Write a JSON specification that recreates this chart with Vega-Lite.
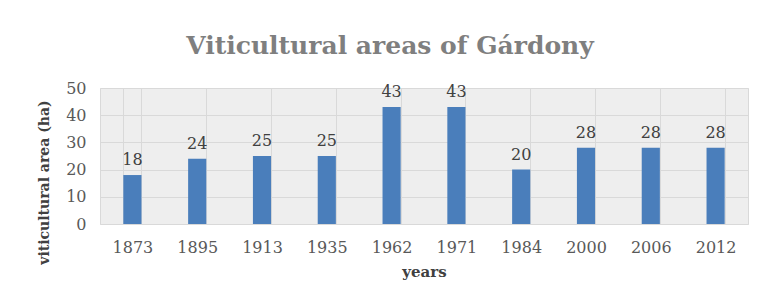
{
  "$schema": "https://vega.github.io/schema/vega-lite/v6.json",
  "autosize": "none",
  "width": 648,
  "height": 136,
  "padding": {"left": 100, "top": 88, "right": 9, "bottom": 76},
  "background": "white",
  "title": {
    "text": "Viticultural areas of Gárdony",
    "font": "DejaVu Serif",
    "fontWeight": "bold",
    "fontSize": 25,
    "color": "#7f7f7f",
    "anchor": "middle",
    "dx": -34,
    "offset": 21
  },
  "data": {
    "values": [
      {"year": "1873", "area": 18},
      {"year": "1895", "area": 24},
      {"year": "1913", "area": 25},
      {"year": "1935", "area": 25},
      {"year": "1962", "area": 43},
      {"year": "1971", "area": 43},
      {"year": "1984", "area": 20},
      {"year": "2000", "area": 28},
      {"year": "2006", "area": 28},
      {"year": "2012", "area": 28}
    ]
  },
  "encoding": {
    "x": {
      "field": "year",
      "type": "nominal",
      "sort": null,
      "scale": {"paddingInner": 0.72, "paddingOuter": 0.36},
      "axis": {
        "title": "years",
        "labelAngle": 0,
        "ticks": false,
        "domain": false,
        "grid": true,
        "tickBand": "extent",
        "gridColor": "#d9d9d9",
        "labelPadding": 15,
        "labelFont": "DejaVu Serif",
        "labelFontSize": 16,
        "labelColor": "#595959",
        "titleFont": "DejaVu Serif",
        "titleFontSize": 15,
        "titleFontWeight": "bold",
        "titleColor": "#404040",
        "titlePadding": 9
      }
    },
    "y": {
      "field": "area",
      "type": "quantitative",
      "scale": {"domain": [0, 50]},
      "axis": {
        "title": "viticultural area (ha)",
        "values": [0, 10, 20, 30, 40, 50],
        "ticks": false,
        "domain": false,
        "gridColor": "#d9d9d9",
        "labelPadding": 14,
        "labelFont": "DejaVu Serif",
        "labelFontSize": 16,
        "labelColor": "#595959",
        "titleFont": "DejaVu Serif",
        "titleFontSize": 14,
        "titleFontWeight": "bold",
        "titleColor": "#404040",
        "titleX": -49,
        "titleY": 94
      }
    }
  },
  "layer": [
    {"mark": {"type": "bar", "color": "#4a7ebb"}},
    {
      "mark": {
        "type": "text",
        "dy": -15,
        "font": "DejaVu Serif",
        "fontSize": 16,
        "color": "#404040"
      },
      "encoding": {"text": {"field": "area", "type": "quantitative"}}
    }
  ],
  "config": {
    "view": {"fill": "#eeeeee", "stroke": "#d9d9d9"}
  }
}
